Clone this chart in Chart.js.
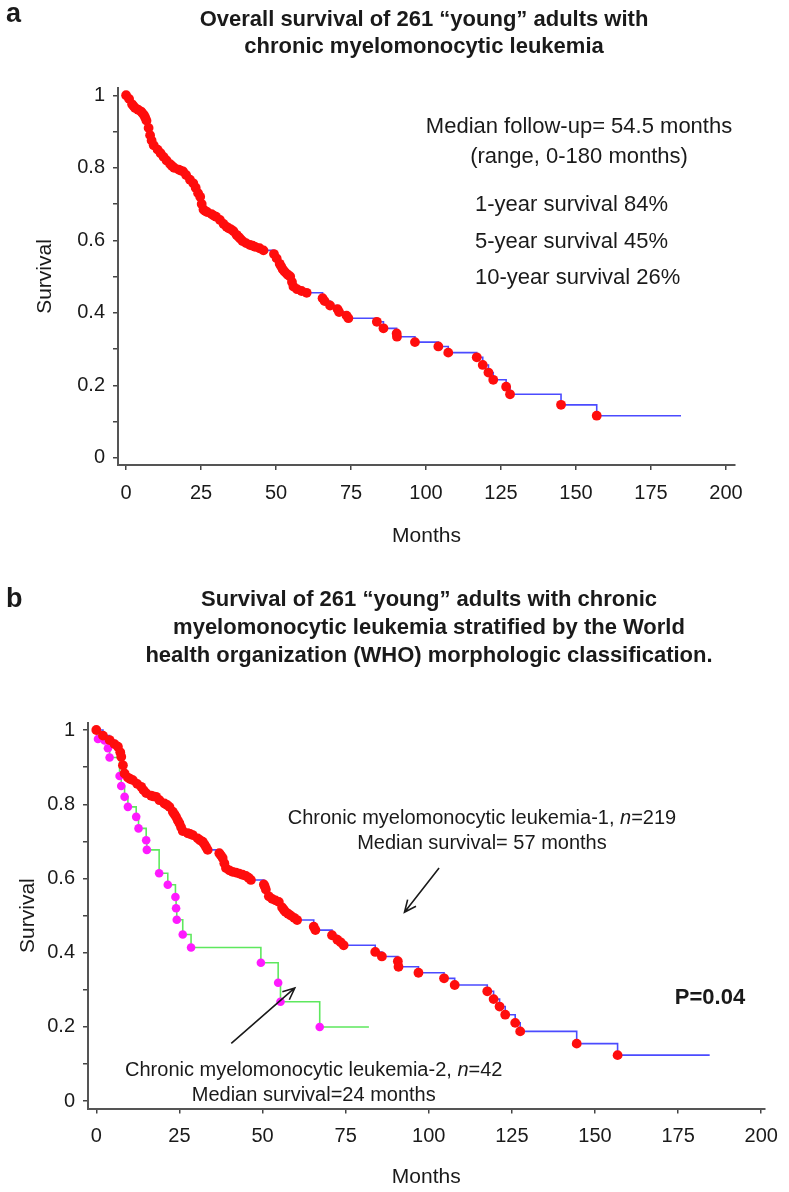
<!DOCTYPE html>
<html>
<head>
<meta charset="utf-8">
<title>Survival of young adults with CMML</title>
<script src="https://cdn.jsdelivr.net/npm/chart.js@4.4.1/dist/chart.umd.min.js"></script>
<style>
  html, body { margin: 0; padding: 0; background: #fff; }
  #wrap { position: relative; width: 789px; height: 1192px; overflow: hidden; }
  canvas { position: absolute; left: 0; }
  #chartA { top: 0; }
  #chartB { top: 560px; }
</style>
</head>
<body>
<div id="wrap">
  <canvas id="chartA" width="789" height="560"></canvas>
  <canvas id="chartB" width="789" height="632"></canvas>
</div>
<script>
// ---- values ----
const xTicks = [0, 25, 50, 75, 100, 125, 150, 175, 200];
const yTicks = [0, 0.2, 0.4, 0.6, 0.8, 1];
const yMinorTicks = [0.1, 0.3, 0.5, 0.7, 0.9];

// panel a: all 261 patients
const allMonths = [0, 1, 2, 2.5, 3, 4, 5, 5.5, 6, 6.4, 6.8, 7.5, 8, 8.5, 9.2, 10.5, 11.5, 12.5, 13.5, 14.7,
  15.3, 16, 17.5, 18.2, 19, 20, 21.3, 22.4, 23.2, 24, 24.7, 25.2, 25.8, 26.3, 27, 28.5, 29.2, 30, 31.3, 32.5,
  33.5, 34.2, 35, 35.8, 36.8, 37.4, 38, 38.8, 40, 41.3, 42.2, 43, 44.5, 45.8, 49.3, 50.2, 51.2, 51.7, 52.2, 52.8,
  53.5, 54, 54.7, 55.3, 55.8, 57, 58.5, 60.2, 65.5, 66.2, 68, 70.5, 71, 73.5, 74.1, 83.6, 85.8, 90.2, 90.3, 96.3,
  104.1, 107.4, 116.9, 118.9, 120.8, 122.4, 126.7, 128, 145, 156.9];
const allSurvival = [1, 0.99, 0.975, 0.97, 0.965, 0.96, 0.955, 0.95, 0.945, 0.938, 0.93, 0.91, 0.89, 0.875, 0.862, 0.85, 0.84, 0.83, 0.82, 0.81,
  0.805, 0.8, 0.795, 0.792, 0.79, 0.78, 0.767, 0.757, 0.745, 0.73, 0.72, 0.7, 0.685, 0.681, 0.678, 0.672, 0.668, 0.665, 0.656, 0.645,
  0.637, 0.633, 0.63, 0.625, 0.615, 0.61, 0.605, 0.598, 0.592, 0.587, 0.585, 0.582, 0.578, 0.572, 0.562, 0.55, 0.535, 0.528, 0.52, 0.514,
  0.508, 0.504, 0.5, 0.485, 0.472, 0.465, 0.46, 0.455, 0.44, 0.432, 0.42, 0.41, 0.402, 0.392, 0.385, 0.375, 0.357, 0.343, 0.334, 0.319,
  0.307, 0.29, 0.277, 0.256, 0.235, 0.215, 0.196, 0.175, 0.146, 0.116];
const allLastFollowUp = 185;

// panel b: CMML-1 (n=219)
const cmml1Months = [0, 2, 4, 5.5, 6.5, 7.2, 7.5, 8, 8.5, 9.5, 10.2, 11, 12.3, 13.5, 14.2, 15, 16.5, 17.2, 18, 19,
  20.5, 21.3, 22, 23, 23.5, 24, 24.5, 25, 25.5, 26, 27.5, 28.2, 29, 30.5, 31.2, 32, 32.5, 33, 33.5, 37,
  37.5, 38, 38.5, 39, 40, 41, 42, 43, 44, 45, 45.8, 46.5, 50.4, 50.7, 51, 51.9, 52.9, 53.9, 54.9, 55.9,
  56.4, 56.9, 57.7, 58.5, 59.5, 60.4, 65.4, 65.9, 70.9, 72.5, 73.5, 74.4, 83.9, 85.9, 90.7, 90.9, 96.9, 104.6, 107.8, 117.6,
  119.5, 121.3, 123, 126, 127.5, 144.5, 156.8];
const cmml1Survival = [1, 0.985, 0.973, 0.962, 0.955, 0.94, 0.928, 0.905, 0.883, 0.872, 0.868, 0.865, 0.855, 0.847, 0.838, 0.83, 0.823, 0.821, 0.82, 0.811,
  0.802, 0.798, 0.793, 0.78, 0.773, 0.766, 0.757, 0.749, 0.738, 0.728, 0.722, 0.72, 0.717, 0.708, 0.703, 0.699, 0.692, 0.685, 0.677, 0.668,
  0.662, 0.655, 0.641, 0.628, 0.622, 0.618, 0.616, 0.613, 0.61, 0.607, 0.602, 0.596, 0.584, 0.578, 0.57, 0.552, 0.545, 0.541, 0.537, 0.522,
  0.516, 0.51, 0.505, 0.5, 0.494, 0.488, 0.47, 0.461, 0.447, 0.435, 0.428, 0.42, 0.402, 0.39, 0.377, 0.362, 0.346, 0.331, 0.313, 0.296,
  0.275, 0.255, 0.233, 0.211, 0.188, 0.155, 0.124];
const cmml1LastFollowUp = 184.5;

// panel b: CMML-2 (n=42)
const cmml2Months = [0, 0.5, 2.5, 3.5, 4, 7, 7.5, 8.5, 9.5, 12, 12.7, 15, 15.2, 18.9, 21.5, 23.8, 24, 24.2, 26, 28.5, 49.5, 54.7, 55.4, 67.2];
const cmml2Survival = [1, 0.976, 0.972, 0.951, 0.926, 0.876, 0.849, 0.82, 0.793, 0.766, 0.735, 0.703, 0.677, 0.614, 0.583, 0.55, 0.52, 0.489, 0.449, 0.414, 0.373, 0.319, 0.268, 0.2];
const cmml2LastFollowUp = 82;

// ---- helpers ----
const FONT = "'Liberation Sans', Arial, Helvetica, sans-serif";
const INK = '#1a1a1a';

function toPoints(months, surv) {
    return months.map((m, i) => ({ x: m, y: surv[i] }));
}
// step curve continues flat to the last follow-up
function toCurve(months, surv, end) {
    const pts = toPoints(months, surv);
    pts.push({ x: end, y: surv[surv.length - 1] });
    return pts;
}

function dots(label, months, surv, color, radius, order) {
    return { label, data: toPoints(months, surv), showLine: false, pointRadius: radius, pointHoverRadius: radius,
        pointBackgroundColor: color, pointBorderWidth: 0, order };
}
function steps(label, months, surv, end, color, order) {
    return { label, data: toCurve(months, surv, end), showLine: true, stepped: 'before', pointRadius: 0,
        borderColor: color, borderWidth: 1.6, fill: false, order };
}

function axes(o) {
    return {
        x: {
            type: 'linear', min: o.xMin, max: o.xMax,
            afterBuildTicks: s => { s.ticks = xTicks.map(v => ({ value: v })); },
            afterFit: s => { s.height = o.xHeight; },
            border: { display: true, color: '#555', width: 2 },
            grid: { drawOnChartArea: false, drawTicks: true, tickLength: 5, color: '#444', lineWidth: 1.5 },
            ticks: { padding: 11, color: INK, autoSkip: false, maxRotation: 0, font: { family: FONT, size: 20 } },
            title: { display: true, text: 'Months', color: INK, font: { family: FONT, size: 21 }, padding: { top: 0, bottom: o.xTitlePad } }
        },
        y: {
            type: 'linear', min: -0.02, max: 1.02,
            afterBuildTicks: s => { s.ticks = yTicks.concat(yMinorTicks).sort((a, b) => a - b).map(v => ({ value: v })); },
            afterFit: s => { s.width = o.yWidth; },
            border: { display: true, color: '#555', width: 2 },
            grid: { drawOnChartArea: false, drawTicks: true, tickLength: 5, color: '#444', lineWidth: 1.5 },
            ticks: { padding: 8, color: INK, autoSkip: false, font: { family: FONT, size: 20 },
                callback: v => yTicks.includes(v) ? String(v) : '' },
            title: { display: true, text: 'Survival', color: INK, font: { family: FONT, size: 21 }, padding: { top: o.yTitlePad, bottom: 0 } }
        }
    };
}

function arrow(ctx, x0, y0, x1, y1) {
    const a = Math.atan2(y1 - y0, x1 - x0), len = 13, spread = 0.42;
    ctx.beginPath();
    ctx.moveTo(x0, y0);
    ctx.lineTo(x1, y1);
    ctx.moveTo(x1 - len * Math.cos(a - spread), y1 - len * Math.sin(a - spread));
    ctx.lineTo(x1, y1);
    ctx.lineTo(x1 - len * Math.cos(a + spread), y1 - len * Math.sin(a + spread));
    ctx.stroke();
}

// text made of [string, italic] runs, centred on cx
function drawRuns(ctx, runs, cx, cy, size) {
    let w = 0;
    runs.forEach(r => { ctx.font = (r[1] ? 'italic ' : '') + size + 'px ' + FONT; w += ctx.measureText(r[0]).width; });
    let x = cx - w / 2;
    ctx.textAlign = 'left';
    runs.forEach(r => {
        ctx.font = (r[1] ? 'italic ' : '') + size + 'px ' + FONT;
        ctx.fillText(r[0], x, cy);
        x += ctx.measureText(r[0]).width;
    });
}

// headings and notes: notes are placed in data units (months, survival)
function notesPlugin(spec) {
    return {
        id: 'notes',
        afterDraw(chart) {
            const { ctx, scales: { x, y } } = chart;
            ctx.save();
            ctx.fillStyle = INK;
            ctx.strokeStyle = INK;
            ctx.textBaseline = 'middle';

            ctx.font = 'bold 27px ' + FONT;
            ctx.textAlign = 'left';
            ctx.fillText(spec.panel[0], spec.panel[1], spec.panel[2]);

            ctx.font = 'bold 22px ' + FONT;
            ctx.textAlign = 'center';
            spec.title.forEach(t => ctx.fillText(t[0], spec.titleX, t[1]));

            spec.texts.forEach(t => {
                const px = x.getPixelForValue(t.m), py = y.getPixelForValue(t.s);
                if (t.runs) { drawRuns(ctx, t.runs, px, py, t.size); return; }
                ctx.font = (t.bold ? 'bold ' : '') + t.size + 'px ' + FONT;
                ctx.textAlign = t.align || 'center';
                ctx.fillText(t.text, px, py);
            });

            ctx.lineWidth = 1.6;
            (spec.arrows || []).forEach(a => arrow(ctx,
                x.getPixelForValue(a[0]), y.getPixelForValue(a[1]),
                x.getPixelForValue(a[2]), y.getPixelForValue(a[3])));
            ctx.restore();
        }
    };
}

// ==========================================================================
// PANEL A
// ==========================================================================
new Chart(document.getElementById('chartA'), {
    type: 'scatter',
    data: {
        datasets: [
            dots('Events', allMonths, allSurvival, '#ff0d0d', 4.9, 0),
            steps('All patients', allMonths, allSurvival, allLastFollowUp, '#4b4bff', 1)
        ]
    },
    options: {
        responsive: false,
        animation: false,
        layout: { padding: { top: 88, right: 54, left: 0, bottom: 0 } },
        plugins: { legend: { display: false }, tooltip: { enabled: false } },
        scales: axes({ xMin: -2.7, xMax: 203, xHeight: 95, xTitlePad: 11, yWidth: 118, yTitlePad: 33 })
    },
    plugins: [notesPlugin({
        panel: ['a', 6, 15],
        titleX: 424,
        title: [['Overall survival of 261 \u201cyoung\u201d adults with', 20], ['chronic myelomonocytic leukemia', 47]],
        texts: [
            { text: 'Median follow-up= 54.5 months', m: 151, s: 0.912, size: 22 },
            { text: '(range, 0-180 months)', m: 151, s: 0.829, size: 22 },
            { text: '1-year survival 84%', m: 116.3, s: 0.697, size: 22, align: 'left' },
            { text: '5-year survival 45%', m: 116.3, s: 0.595, size: 22, align: 'left' },
            { text: '10-year survival 26%', m: 116.3, s: 0.496, size: 22, align: 'left' }
        ]
    })]
});

// ==========================================================================
// PANEL B
// ==========================================================================
new Chart(document.getElementById('chartB'), {
    type: 'scatter',
    data: {
        datasets: [
            dots('CMML-1 events', cmml1Months, cmml1Survival, '#ff0d0d', 4.9, 0),
            dots('CMML-2 events', cmml2Months, cmml2Survival, '#ff1aff', 4.3, 1),
            steps('CMML-2', cmml2Months, cmml2Survival, cmml2LastFollowUp, '#5ee85e', 2),
            steps('CMML-1', cmml1Months, cmml1Survival, cmml1LastFollowUp, '#4b4bff', 3)
        ]
    },
    options: {
        responsive: false,
        animation: false,
        layout: { padding: { top: 162.6, right: 22, left: 0, bottom: 0 } },
        plugins: { legend: { display: false }, tooltip: { enabled: false } },
        scales: axes({ xMin: -2.5, xMax: 201, xHeight: 83.4, xTitlePad: 2, yWidth: 88, yTitlePad: 16 })
    },
    plugins: [notesPlugin({
        panel: ['b', 6, 40],
        titleX: 429,
        title: [['Survival of 261 \u201cyoung\u201d adults with chronic', 40],
                ['myelomonocytic leukemia stratified by the World', 68],
                ['health organization (WHO) morphologic classification.', 96]],
        texts: [
            { runs: [['Chronic myelomonocytic leukemia-1, ', false], ['n', true], ['=219', false]], m: 116, s: 0.763, size: 20 },
            { text: 'Median survival= 57 months', m: 116, s: 0.695, size: 20 },
            { text: 'P=0.04', m: 184.6, s: 0.278, size: 22, bold: true },
            { runs: [['Chronic myelomonocytic leukemia-2, ', false], ['n', true], ['=42', false]], m: 65.4, s: 0.084, size: 20 },
            { text: 'Median survival=24 months', m: 65.4, s: 0.016, size: 20 }
        ],
        arrows: [[103.1, 0.628, 92.7, 0.509], [40.6, 0.156, 59.7, 0.305]]
    })]
});
</script>
</body>
</html>
